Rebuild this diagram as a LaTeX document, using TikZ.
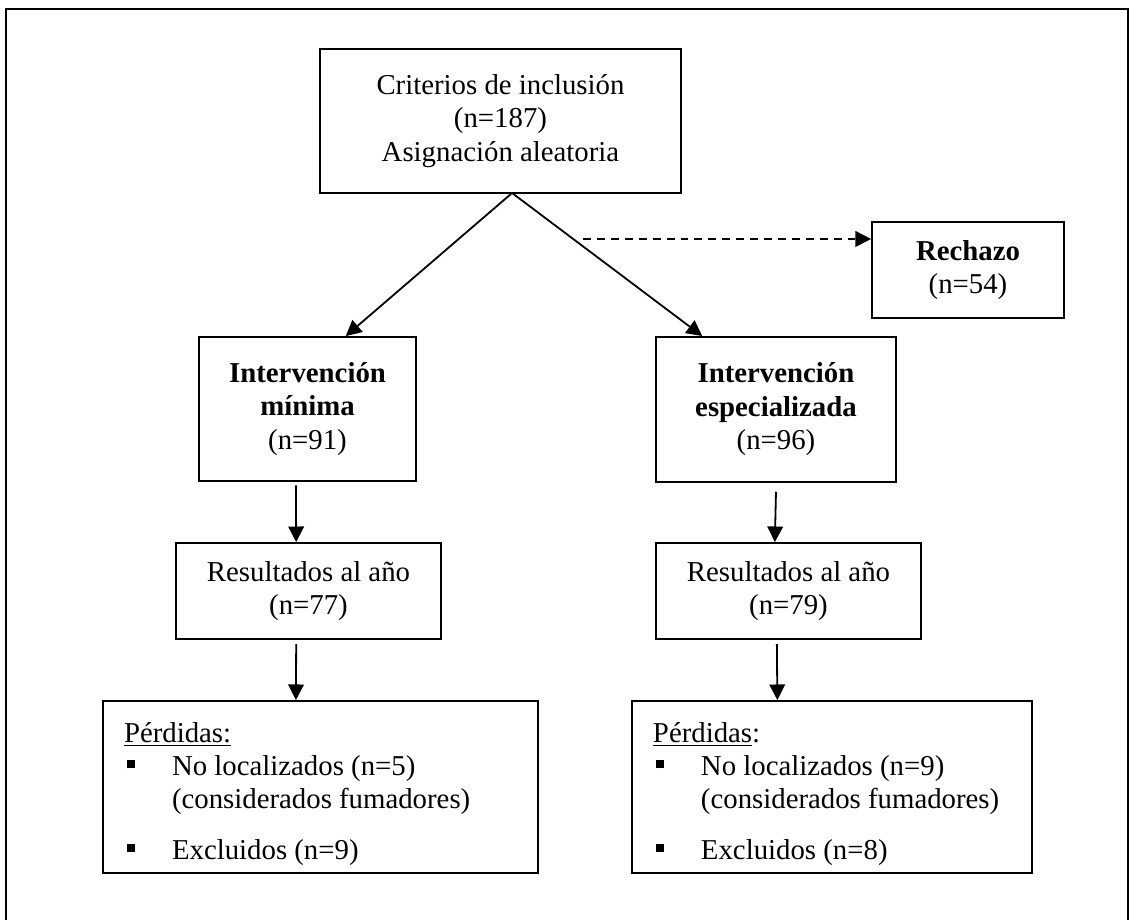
\documentclass[tikz,border=0pt]{standalone}
\usepackage{fontspec}
\setmainfont{Liberation Serif}
\usepackage{tikz}
\usetikzlibrary{arrows,arrows.meta,positioning}

\newcommand{\sqbul}{\makebox[20pt][l]{\hspace{1.2pt}\raisebox{2.9pt}{\rule{3.4pt}{3.4pt}}}}

\begin{document}
\begin{tikzpicture}[
    box/.style={rectangle, draw=black, line width=0.75pt, align=center, inner sep=0pt, font=\fontsize{12}{14}\selectfont,
        execute at begin node={\spaceskip=0pt\xspaceskip=0pt\relax}},
    lossbox/.style={box, align=left, inner xsep=8.75pt, font=\fontsize{12}{13.8}\selectfont},
    arrow/.style={->, >={Triangle[length=6.5pt, width=6.5pt]}, line width=0.75pt},
    dasharrow/.style={arrow, dash pattern=on 3.3pt off 2.5pt}
]
    \useasboundingbox (0,0) rectangle (16.55,13.474);

    % Frame (its bottom edge lies below the page)
    \draw[line width=0.8pt] (0.088,-0.3) -- (0.088,13.342) -- (16.52,13.342) -- (16.52,-0.3);

    % Inclusion and groups
    \node[box, minimum width=5.287cm, minimum height=2.109cm] (incl) at (7.33,11.702) {Criterios de inclusión\\(n=187)\\Asignación aleatoria};
    \node[box, minimum width=3.178cm, minimum height=2.109cm] (minima) at (4.504,7.484) {\textbf{Intervención}\\\textbf{mínima}\\(n=91)};
    \node[box, minimum width=3.515cm, minimum height=2.124cm] (especial) at (11.365,7.477) {\textbf{Intervención}\\\textbf{especializada}\\(n=96)};
    \node[box, minimum width=2.812cm, minimum height=1.406cm] (rechazo) at (14.177,9.52) {\textbf{Rechazo}\\(n=54)};

    % Results after one year
    \node[box, minimum width=3.881cm, minimum height=1.406cm] (res1) at (4.518,4.818) {Resultados al año\\(n=77)};
    \node[box, minimum width=3.881cm, minimum height=1.406cm] (res2) at (11.548,4.818) {Resultados al año\\(n=79)};

    % Losses
    \node[lossbox, minimum width=6.371cm, minimum height=2.519cm, text width=163.75pt] (perd1) at (4.694,1.948) {\rule{0pt}{14pt}\underline{Pérdidas:}\\
        \sqbul No localizados (n=5)\\
        \hspace*{20pt}(considerados fumadores)\\[7.5pt]
        \sqbul Excluidos (n=9)};
    \node[lossbox, minimum width=5.858cm, minimum height=2.519cm, text width=149.17pt] (perd2) at (12.185,1.948) {\rule{0pt}{14pt}\underline{Pérdidas}:\\
        \sqbul No localizados (n=9)\\
        \hspace*{20pt}(considerados fumadores)\\[7.5pt]
        \sqbul Excluidos (n=8)};

    % Connectors
    \coordinate (split) at (7.5,10.647);
    \coordinate (rej) at (8.54,9.974);
    \draw[arrow] (split) -- ([xshift=0.56cm]minima.north);
    \draw[arrow] (split) -- ([xshift=-1.08cm]especial.north);
    \draw[dasharrow] (rej) -- (rej -| rechazo.west);

    \draw[arrow] ([xshift=-0.17cm, yshift=-0.05cm]minima.south) -- ([xshift=-0.18cm]res1.north);
    \draw[arrow] ([yshift=-0.13cm]especial.south) -- ([xshift=-0.2cm]res2.north);
    \draw[arrow] ([xshift=-0.18cm, yshift=-0.06cm]res1.south) -- ([xshift=-0.36cm]perd1.north);
    \draw[arrow] ([xshift=-0.17cm, yshift=-0.06cm]res2.south) -- ([xshift=-0.8cm]perd2.north);
\end{tikzpicture}
\end{document}
